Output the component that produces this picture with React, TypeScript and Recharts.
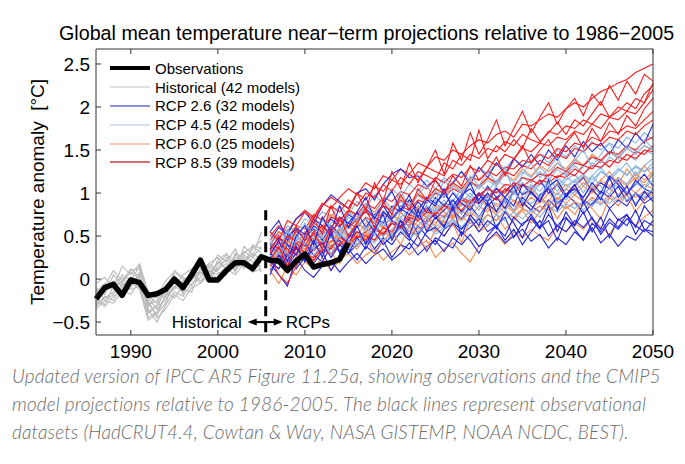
import { Legend, Line, LineChart, ReferenceDot, ReferenceLine, XAxis, YAxis } from "recharts";

// years on the x axis
const FIRST_YEAR = 1986;
const RCP_START = 2006;
const LAST_YEAR = 2050;
const yearTicks = [1990, 2000, 2010, 2020, 2030, 2040, 2050];
const tempTicks = [-0.5, 0, 0.5, 1, 1.5, 2, 2.5];

// observations 1986-2015 (°C relative to 1986-2005)
const observations = [
  -0.23, -0.1, -0.06, -0.19, -0.01, -0.04, -0.19, -0.17, -0.12, 0.0,
  -0.1, 0.05, 0.22, -0.01, -0.01, 0.1, 0.19, 0.19, 0.12, 0.26,
  0.22, 0.21, 0.1, 0.21, 0.29, 0.14, 0.17, 0.19, 0.23, 0.42,
];

// historical runs 1986-2005
const historical: number[][] = [
  [-0.2, -0.1, -0.05, 0.02, -0.08, 0.05, -0.3, -0.25, -0.12, -0.05, -0.1, 0.0, 0.08, 0.02, 0.12, 0.18, 0.1, 0.22, 0.15, 0.28],
  [-0.3, -0.22, -0.15, -0.1, 0.0, -0.05, -0.45, -0.38, -0.2, -0.12, -0.02, 0.05, -0.05, 0.1, 0.05, 0.15, 0.25, 0.18, 0.3, 0.22],
  [-0.1, -0.18, 0.05, -0.05, 0.1, 0.12, -0.2, -0.28, -0.08, 0.02, -0.05, 0.08, 0.15, 0.05, 0.2, 0.12, 0.28, 0.2, 0.35, 0.45],
  [-0.25, -0.32, -0.2, -0.12, -0.18, -0.02, -0.35, -0.5, -0.3, -0.15, -0.2, -0.05, 0.02, 0.1, 0.0, 0.08, 0.15, 0.25, 0.12, 0.2],
  [-0.05, 0.02, -0.1, 0.15, 0.05, 0.18, -0.15, -0.22, -0.02, 0.08, 0.0, -0.08, 0.12, 0.18, 0.1, 0.25, 0.18, 0.32, 0.25, 0.38],
  [-0.35, -0.25, -0.28, -0.15, -0.05, -0.1, -0.4, -0.32, -0.25, -0.08, -0.15, 0.02, 0.08, -0.02, 0.15, 0.22, 0.12, 0.28, 0.2, 0.15],
  [-0.15, -0.05, -0.12, -0.02, 0.08, 0.0, -0.28, -0.42, -0.18, -0.1, 0.05, 0.12, 0.05, 0.18, 0.25, 0.1, 0.2, 0.3, 0.38, 0.3],
  [-0.22, -0.3, -0.08, -0.18, -0.1, 0.08, -0.38, -0.3, -0.15, -0.22, -0.08, 0.05, -0.02, 0.08, 0.18, 0.28, 0.22, 0.15, 0.25, 0.55],
  [-0.28, -0.15, -0.02, -0.08, 0.02, -0.12, -0.48, -0.4, -0.28, -0.02, -0.12, -0.15, 0.1, 0.15, 0.08, 0.05, 0.3, 0.25, 0.1, 0.25],
  [-0.12, -0.25, -0.18, 0.05, -0.02, 0.15, -0.22, -0.35, -0.1, 0.05, -0.18, 0.1, 0.2, 0.0, 0.22, 0.3, 0.08, 0.38, 0.28, 0.08],
  [-0.18, -0.08, 0.1, -0.02, 0.12, 0.02, -0.32, -0.18, -0.22, 0.1, 0.02, -0.02, 0.18, 0.12, 0.28, 0.2, 0.35, 0.12, 0.4, 0.35],
  [-0.32, -0.2, -0.25, -0.05, -0.12, -0.08, -0.25, -0.45, -0.35, -0.18, -0.25, -0.1, -0.05, 0.05, -0.02, 0.12, 0.05, 0.18, 0.08, 0.12],
];

// scenario runs 2006-2050
const rcp26: number[][] = [
  [0.18, 0.05, -0.08, 0.25, 0.1, 0.02, 0.15, 0.22, 0.08, 0.2, 0.3, 0.18, 0.28, 0.35, 0.22, 0.3, 0.42, 0.28, 0.38, 0.45, 0.32, 0.48, 0.4, 0.52, 0.38, 0.45, 0.55, 0.42, 0.5, 0.58, 0.44, 0.52, 0.36, 0.48, 0.4, 0.55, 0.46, 0.6, 0.42, 0.52, 0.38, 0.5, 0.45, 0.58, 0.5],
  [0.45, 0.6, 0.52, 0.7, 0.78, 0.65, 0.85, 0.98, 0.9, 0.82, 1.0, 1.05, 0.92, 1.1, 1.22, 1.28, 1.18, 1.2, 1.08, 1.15, 1.02, 1.12, 1.25, 1.1, 1.3, 1.18, 1.35, 1.22, 1.4, 1.3, 1.45, 1.32, 1.5, 1.38, 1.55, 1.42, 1.6, 1.48, 1.58, 1.45, 1.62, 1.52, 1.7, 1.58, 1.8],
  [0.3, 0.22, 0.4, 0.35, 0.28, 0.45, 0.38, 0.5, 0.32, 0.48, 0.55, 0.42, 0.6, 0.5, 0.65, 0.58, 0.7, 0.52, 0.68, 0.75, 0.62, 0.8, 0.7, 0.85, 0.72, 0.88, 0.78, 0.92, 0.8, 0.95, 0.85, 0.78, 0.92, 0.82, 0.98, 0.9, 0.76, 0.88, 0.95, 0.82, 0.92, 0.85, 1.0, 0.88, 0.95],
  [0.25, 0.35, 0.15, 0.3, 0.42, 0.28, 0.2, 0.38, 0.45, 0.3, 0.4, 0.52, 0.35, 0.48, 0.4, 0.55, 0.45, 0.62, 0.5, 0.4, 0.58, 0.65, 0.52, 0.6, 0.7, 0.55, 0.62, 0.72, 0.48, 0.65, 0.7, 0.58, 0.75, 0.62, 0.55, 0.68, 0.6, 0.72, 0.52, 0.66, 0.58, 0.7, 0.62, 0.55, 0.68],
  [0.4, 0.3, 0.5, 0.58, 0.45, 0.62, 0.55, 0.7, 0.6, 0.75, 0.68, 0.82, 0.72, 0.65, 0.85, 0.78, 0.92, 0.8, 0.95, 0.88, 1.0, 0.85, 0.98, 1.05, 0.92, 1.08, 0.95, 1.02, 1.12, 0.98, 1.05, 1.15, 1.0, 1.1, 0.95, 1.08, 1.18, 1.02, 1.12, 1.05, 1.15, 1.0, 1.1, 1.22, 1.08],
  [0.1, 0.22, 0.3, 0.12, 0.25, 0.18, 0.32, 0.1, 0.28, 0.35, 0.22, 0.38, 0.3, 0.45, 0.25, 0.4, 0.35, 0.5, 0.32, 0.48, 0.42, 0.36, 0.55, 0.45, 0.3, 0.5, 0.62, 0.45, 0.58, 0.4, 0.55, 0.68, 0.5, 0.62, 0.72, 0.58, 0.45, 0.65, 0.55, 0.7, 0.6, 0.75, 0.52, 0.68, 0.62],
  [0.35, 0.48, 0.4, 0.28, 0.5, 0.58, 0.45, 0.62, 0.52, 0.4, 0.62, 0.7, 0.55, 0.78, 0.68, 0.6, 0.82, 0.72, 0.85, 0.7, 0.8, 0.92, 0.78, 0.88, 1.0, 0.85, 0.95, 0.82, 1.02, 0.9, 0.8, 0.98, 1.05, 0.88, 0.96, 1.1, 0.92, 0.85, 1.02, 0.95, 1.08, 0.9, 1.0, 0.92, 1.05],
  [0.55, 0.68, 0.45, 0.6, 0.52, 0.7, 0.62, 0.5, 0.72, 0.65, 0.78, 0.6, 0.75, 0.85, 0.7, 0.82, 0.75, 0.9, 0.78, 0.95, 0.85, 1.0, 0.88, 0.8, 0.98, 0.9, 1.05, 0.95, 0.85, 1.1, 1.0, 0.9, 1.08, 1.15, 0.98, 1.05, 0.95, 1.12, 1.0, 1.2, 1.1, 0.98, 1.15, 1.05, 1.0],
  [0.2, 0.12, 0.28, 0.38, 0.22, 0.35, 0.42, 0.25, 0.4, 0.3, 0.48, 0.35, 0.55, 0.4, 0.5, 0.62, 0.48, 0.38, 0.55, 0.6, 0.5, 0.65, 0.58, 0.7, 0.55, 0.68, 0.6, 0.5, 0.72, 0.62, 0.75, 0.6, 0.68, 0.45, 0.7, 0.62, 0.78, 0.55, 0.72, 0.48, 0.7, 0.62, 0.8, 0.58, 0.55],
  [0.28, 0.45, 0.2, 0.5, 0.62, 0.4, 0.72, 0.55, 0.85, 0.6, 0.78, 0.95, 0.7, 0.88, 1.02, 0.8, 0.98, 0.72, 0.92, 0.85, 1.05, 0.8, 0.95, 1.12, 0.88, 1.0, 0.78, 0.95, 1.08, 0.85, 1.02, 0.9, 1.15, 0.8, 0.98, 1.1, 0.88, 1.05, 0.92, 1.18, 0.95, 1.08, 0.85, 1.02, 0.9],
  [0.05, 0.28, 0.15, 0.38, 0.2, 0.45, 0.25, 0.55, 0.3, 0.48, 0.62, 0.4, 0.58, 0.75, 0.45, 0.68, 0.5, 0.8, 0.55, 0.72, 0.6, 0.85, 0.5, 0.75, 0.62, 0.9, 0.58, 0.78, 0.65, 0.48, 0.72, 0.6, 0.85, 0.55, 0.78, 0.62, 0.9, 0.7, 0.58, 0.82, 0.68, 0.75, 0.6, 0.85, 0.72],
];

const rcp45: number[][] = [
  [0.3, 0.42, 0.35, 0.5, 0.38, 0.45, 0.55, 0.48, 0.6, 0.52, 0.65, 0.58, 0.72, 0.62, 0.7, 0.78, 0.68, 0.82, 0.75, 0.88, 0.8, 0.92, 0.85, 0.95, 0.9, 1.0, 0.92, 1.05, 0.98, 1.1, 1.02, 1.12, 1.05, 1.18, 1.08, 1.15, 1.22, 1.1, 1.25, 1.18, 1.28, 1.2, 1.32, 1.25, 1.3],
  [0.5, 0.45, 0.62, 0.55, 0.7, 0.65, 0.78, 0.72, 0.85, 0.75, 0.9, 0.82, 0.98, 0.88, 1.05, 0.95, 1.1, 1.02, 1.15, 1.05, 1.18, 1.1, 1.25, 1.15, 1.3, 1.22, 1.35, 1.28, 1.4, 1.32, 1.38, 1.45, 1.35, 1.5, 1.42, 1.55, 1.48, 1.6, 1.5, 1.58, 1.52, 1.65, 1.58, 1.7, 1.62],
  [0.15, 0.25, 0.2, 0.3, 0.22, 0.35, 0.28, 0.4, 0.32, 0.45, 0.38, 0.5, 0.42, 0.55, 0.48, 0.52, 0.6, 0.5, 0.65, 0.58, 0.62, 0.7, 0.6, 0.72, 0.65, 0.75, 0.68, 0.8, 0.7, 0.82, 0.78, 0.85, 0.76, 0.9, 0.82, 0.88, 0.8, 0.92, 0.86, 0.95, 0.9, 0.98, 0.88, 1.0, 0.95],
  [0.35, 0.28, 0.45, 0.38, 0.3, 0.5, 0.42, 0.58, 0.48, 0.62, 0.55, 0.48, 0.68, 0.6, 0.75, 0.65, 0.72, 0.85, 0.7, 0.8, 0.92, 0.78, 0.88, 1.0, 0.85, 0.95, 1.08, 0.9, 1.02, 1.12, 0.98, 1.1, 1.18, 1.02, 1.15, 1.22, 1.08, 1.2, 1.3, 1.15, 1.25, 1.35, 1.2, 1.32, 1.4],
  [0.4, 0.52, 0.45, 0.38, 0.55, 0.6, 0.5, 0.65, 0.72, 0.58, 0.7, 0.78, 0.65, 0.8, 0.72, 0.85, 0.92, 0.8, 0.95, 0.88, 0.98, 0.9, 1.05, 0.95, 1.1, 1.02, 1.15, 1.08, 1.0, 1.18, 1.12, 1.25, 1.15, 1.28, 1.2, 1.32, 1.22, 1.35, 1.28, 1.42, 1.35, 1.45, 1.38, 1.5, 1.45],
  [0.25, 0.18, 0.32, 0.42, 0.3, 0.38, 0.48, 0.35, 0.52, 0.42, 0.55, 0.45, 0.6, 0.5, 0.58, 0.68, 0.55, 0.62, 0.72, 0.6, 0.7, 0.78, 0.68, 0.82, 0.72, 0.85, 0.78, 0.9, 0.8, 0.92, 0.88, 0.95, 0.85, 1.0, 0.92, 1.02, 0.95, 1.08, 0.98, 1.05, 1.1, 1.0, 1.12, 1.05, 1.15],
  [0.45, 0.35, 0.55, 0.48, 0.62, 0.52, 0.68, 0.6, 0.55, 0.72, 0.65, 0.8, 0.7, 0.85, 0.78, 0.9, 0.82, 0.98, 0.88, 1.02, 0.95, 1.08, 1.0, 1.12, 1.05, 1.15, 1.08, 1.22, 1.12, 1.25, 1.18, 1.3, 1.2, 1.35, 1.25, 1.38, 1.3, 1.42, 1.35, 1.48, 1.4, 1.52, 1.45, 1.55, 1.5],
  [0.32, 0.4, 0.28, 0.45, 0.52, 0.4, 0.55, 0.48, 0.6, 0.5, 0.62, 0.7, 0.58, 0.75, 0.65, 0.72, 0.8, 0.7, 0.85, 0.78, 0.88, 0.82, 0.95, 0.85, 0.98, 0.92, 1.02, 0.95, 1.08, 1.0, 1.1, 1.02, 1.15, 1.08, 1.18, 1.12, 1.2, 1.15, 1.25, 1.18, 1.28, 1.22, 1.3, 1.25, 1.35],
  [0.2, 0.3, 0.25, 0.15, 0.32, 0.28, 0.38, 0.3, 0.42, 0.35, 0.45, 0.4, 0.52, 0.45, 0.5, 0.58, 0.48, 0.55, 0.62, 0.52, 0.6, 0.68, 0.58, 0.65, 0.72, 0.62, 0.75, 0.68, 0.78, 0.7, 0.8, 0.72, 0.85, 0.78, 0.88, 0.82, 0.9, 0.85, 0.95, 0.88, 0.98, 0.92, 1.0, 0.95, 1.05],
  [0.42, 0.3, 0.58, 0.45, 0.65, 0.5, 0.72, 0.6, 0.48, 0.78, 0.68, 0.88, 0.72, 0.95, 0.8, 1.02, 0.85, 0.98, 1.1, 0.9, 1.15, 1.02, 0.92, 1.2, 1.08, 1.25, 1.12, 1.3, 1.0, 1.22, 1.35, 1.18, 1.28, 1.42, 1.2, 1.38, 1.5, 1.3, 1.45, 1.58, 1.4, 1.55, 1.48, 1.62, 1.52],
  [0.22, 0.38, 0.3, 0.18, 0.42, 0.35, 0.5, 0.28, 0.55, 0.45, 0.38, 0.6, 0.52, 0.68, 0.5, 0.72, 0.6, 0.78, 0.65, 0.82, 0.7, 0.88, 0.75, 0.92, 0.8, 0.98, 0.85, 0.78, 1.02, 0.9, 1.08, 0.95, 1.12, 0.88, 1.05, 1.15, 1.0, 1.2, 1.08, 0.98, 1.18, 1.1, 1.25, 1.05, 1.22],
];

const rcp60: number[][] = [
  [0.1, -0.05, 0.15, 0.05, 0.2, 0.12, 0.25, 0.1, 0.22, 0.3, 0.18, 0.28, 0.35, 0.22, 0.32, 0.4, 0.28, 0.38, 0.45, 0.25, 0.35, 0.42, 0.3, 0.2, 0.38, 0.45, 0.52, 0.4, 0.55, 0.48, 0.58, 0.5, 0.45, 0.62, 0.55, 0.65, 0.58, 0.7, 0.6, 0.52, 0.68, 0.75, 0.62, 0.72, 0.8],
  [0.3, 0.38, 0.25, 0.42, 0.35, 0.48, 0.4, 0.52, 0.45, 0.38, 0.55, 0.48, 0.6, 0.52, 0.65, 0.58, 0.68, 0.62, 0.72, 0.65, 0.75, 0.7, 0.8, 0.72, 0.85, 0.78, 0.88, 0.82, 0.92, 0.85, 0.95, 0.88, 1.0, 0.92, 1.05, 0.98, 1.08, 1.0, 1.12, 1.05, 1.15, 1.08, 1.18, 1.12, 1.22],
  [0.45, 0.55, 0.48, 0.62, 0.58, 0.7, 0.62, 0.75, 0.68, 0.8, 0.72, 0.85, 0.78, 0.92, 0.82, 0.95, 0.88, 1.0, 0.92, 1.05, 0.98, 1.1, 1.02, 1.15, 1.05, 1.18, 1.1, 1.22, 1.15, 1.28, 1.2, 1.32, 1.25, 1.35, 1.28, 1.4, 1.32, 1.45, 1.38, 1.48, 1.42, 1.52, 1.45, 1.55, 1.5],
  [0.25, 0.18, 0.35, 0.28, 0.4, 0.32, 0.45, 0.38, 0.5, 0.42, 0.48, 0.55, 0.45, 0.6, 0.5, 0.62, 0.55, 0.68, 0.58, 0.72, 0.65, 0.75, 0.68, 0.78, 0.7, 0.82, 0.75, 0.85, 0.78, 0.88, 0.8, 0.92, 0.85, 0.95, 0.88, 0.98, 0.9, 1.02, 0.95, 1.05, 0.98, 1.08, 1.0, 1.1, 1.05],
  [0.38, 0.3, 0.45, 0.52, 0.4, 0.55, 0.48, 0.42, 0.58, 0.62, 0.5, 0.65, 0.7, 0.58, 0.75, 0.68, 0.62, 0.8, 0.72, 0.85, 0.78, 0.7, 0.88, 0.82, 0.92, 0.85, 0.95, 0.88, 0.8, 0.98, 1.02, 0.92, 1.05, 0.98, 1.1, 1.02, 1.12, 1.05, 1.15, 1.08, 1.18, 1.1, 1.22, 1.15, 1.25],
  [0.2, 0.32, 0.28, 0.22, 0.35, 0.42, 0.3, 0.45, 0.38, 0.48, 0.4, 0.52, 0.45, 0.55, 0.48, 0.6, 0.52, 0.58, 0.65, 0.55, 0.68, 0.62, 0.72, 0.65, 0.6, 0.75, 0.68, 0.78, 0.72, 0.82, 0.75, 0.85, 0.8, 0.88, 0.82, 0.9, 0.85, 0.95, 0.88, 0.98, 0.92, 1.0, 0.95, 1.02, 0.98],
  [0.35, 0.22, 0.45, 0.3, 0.55, 0.42, 0.62, 0.35, 0.58, 0.48, 0.68, 0.55, 0.72, 0.6, 0.52, 0.78, 0.65, 0.85, 0.7, 0.62, 0.88, 0.72, 0.95, 0.82, 1.0, 0.85, 0.78, 1.02, 0.9, 0.82, 1.05, 0.95, 0.88, 1.12, 0.98, 1.08, 1.2, 1.02, 1.15, 1.25, 1.1, 1.28, 1.15, 1.32, 1.2],
  [0.15, 0.3, 0.08, 0.25, 0.35, 0.2, 0.4, 0.3, 0.18, 0.42, 0.35, 0.5, 0.28, 0.45, 0.55, 0.4, 0.62, 0.48, 0.35, 0.58, 0.5, 0.65, 0.42, 0.7, 0.55, 0.62, 0.75, 0.58, 0.68, 0.8, 0.65, 0.78, 0.88, 0.7, 0.85, 0.75, 0.92, 0.82, 0.7, 0.95, 0.85, 0.98, 0.78, 0.92, 1.0],
];

const rcp85: number[][] = [
  [0.5, 0.62, 0.55, 0.7, 0.8, 0.72, 0.88, 0.82, 0.95, 1.05, 0.98, 1.12, 1.05, 1.2, 1.15, 1.28, 1.22, 1.35, 1.3, 1.42, 1.38, 1.5, 1.45, 1.55, 1.62, 1.58, 1.68, 1.72, 1.65, 1.8, 1.78, 1.85, 1.92, 1.88, 1.98, 2.05, 2.0, 2.1, 2.18, 2.22, 2.28, 2.32, 2.4, 2.45, 2.5],
  [0.4, 0.55, 0.48, 0.62, 0.58, 0.75, 0.68, 0.85, 0.78, 0.92, 0.85, 1.0, 0.95, 1.1, 1.02, 1.18, 1.1, 1.25, 1.2, 1.15, 1.35, 1.28, 1.45, 1.38, 1.73, 1.4, 1.55, 1.48, 1.62, 1.52, 1.75, 1.6, 1.7, 1.82, 1.68, 1.85, 1.78, 1.92, 2.06, 1.88, 1.95, 2.05, 1.98, 2.15, 2.25],
  [0.35, 0.48, 0.42, 0.55, 0.5, 0.65, 0.58, 0.72, 0.68, 0.8, 0.75, 0.88, 0.82, 0.95, 0.9, 1.02, 0.98, 1.1, 1.05, 1.18, 1.12, 1.22, 1.18, 1.3, 1.25, 1.38, 1.32, 1.45, 1.4, 1.52, 1.48, 1.58, 1.55, 1.65, 1.62, 1.72, 1.68, 1.8, 1.75, 1.88, 1.85, 1.95, 1.92, 2.05, 2.2],
  [0.3, 0.42, 0.35, 0.28, 0.45, 0.52, 0.4, 0.58, 0.5, 0.65, 0.6, 0.72, 0.65, 0.78, 0.7, 0.85, 0.8, 0.92, 0.88, 1.0, 0.95, 1.05, 1.0, 1.12, 1.08, 1.18, 1.12, 1.25, 1.2, 1.32, 1.28, 1.38, 1.32, 1.45, 1.4, 1.52, 1.48, 1.58, 1.55, 1.65, 1.62, 1.72, 1.68, 1.78, 1.85],
  [0.2, 0.12, 0.28, 0.35, 0.25, 0.38, 0.32, 0.45, 0.4, 0.52, 0.48, 0.55, 0.62, 0.52, 0.68, 0.62, 0.75, 0.7, 0.82, 0.75, 0.88, 0.82, 0.95, 0.9, 1.0, 0.95, 1.05, 1.0, 1.12, 1.08, 1.15, 1.1, 1.22, 1.18, 1.25, 1.2, 1.32, 1.28, 1.38, 1.3, 1.42, 1.38, 1.48, 1.45, 1.55],
  [0.55, 0.45, 0.68, 0.62, 0.78, 0.7, 0.85, 0.95, 0.88, 0.82, 1.0, 0.92, 1.08, 1.02, 1.15, 1.1, 1.22, 1.15, 1.3, 1.25, 1.2, 1.38, 1.32, 1.45, 1.4, 1.52, 1.48, 1.6, 1.55, 1.68, 1.62, 1.58, 1.72, 1.68, 1.78, 1.75, 1.85, 1.8, 1.92, 1.88, 2.0, 1.95, 2.1, 2.05, 2.28],
  [0.15, 0.28, 0.22, 0.35, 0.3, 0.25, 0.4, 0.35, 0.48, 0.42, 0.55, 0.5, 0.45, 0.6, 0.55, 0.68, 0.62, 0.72, 0.65, 0.78, 0.72, 0.85, 0.8, 0.92, 0.88, 0.98, 0.92, 1.05, 1.0, 1.1, 1.05, 1.15, 1.12, 1.2, 1.18, 1.28, 1.22, 1.32, 1.3, 1.38, 1.35, 1.45, 1.4, 1.5, 1.48],
  [0.42, 0.35, 0.5, 0.45, 0.38, 0.55, 0.62, 0.52, 0.68, 0.6, 0.7, 0.78, 0.72, 0.85, 0.8, 0.92, 0.85, 0.98, 0.92, 1.05, 1.0, 1.12, 1.05, 1.18, 1.15, 1.25, 1.2, 1.3, 1.28, 1.38, 1.35, 1.45, 1.4, 1.52, 1.48, 1.58, 1.55, 1.65, 1.6, 1.72, 1.7, 1.78, 1.75, 1.85, 1.95],
  [0.25, 0.05, -0.05, 0.15, 0.3, 0.22, 0.35, 0.28, 0.42, 0.38, 0.5, 0.45, 0.58, 0.52, 0.65, 0.6, 0.72, 0.68, 0.78, 0.75, 0.85, 0.8, 0.92, 0.88, 0.98, 1.05, 1.0, 1.1, 1.08, 1.18, 1.15, 1.22, 1.2, 1.3, 1.25, 1.35, 1.32, 1.42, 1.38, 1.48, 1.45, 1.55, 1.5, 1.6, 1.65],
  [0.32, 0.5, 0.28, 0.6, 0.45, 0.7, 0.52, 0.85, 0.62, 0.78, 1.0, 0.8, 1.12, 0.9, 1.25, 1.05, 1.35, 1.12, 1.3, 1.5, 1.22, 1.58, 1.38, 1.7, 1.45, 1.62, 1.85, 1.55, 1.75, 1.95, 1.7, 1.88, 2.05, 1.8, 1.98, 2.1, 1.9, 2.15, 2.02, 2.25, 2.08, 2.3, 2.15, 2.38, 2.3],
  [0.22, 0.38, 0.15, 0.42, 0.3, 0.55, 0.35, 0.6, 0.72, 0.5, 0.65, 0.82, 0.6, 0.9, 0.75, 0.98, 0.8, 1.05, 0.92, 1.15, 1.0, 1.2, 1.08, 1.32, 1.15, 1.25, 1.42, 1.2, 1.38, 1.55, 1.35, 1.5, 1.62, 1.42, 1.58, 1.7, 1.52, 1.75, 1.6, 1.82, 1.68, 1.9, 1.78, 1.98, 2.1],
];

const scenarios = [
  { key: "r45", runs: rcp45, color: "#86b3e6" },
  { key: "r60", runs: rcp60, color: "#f98a4c" },
  { key: "r26", runs: rcp26, color: "#2424e0" },
  { key: "r85", runs: rcp85, color: "#ff1a1a" },
];

const legendRows = [
  { label: "Observations", color: "#000", width: 4 },
  { label: "Historical (42 models)", color: "#d6d6d6", width: 1.5 },
  { label: "RCP 2.6 (32 models)", color: "#6a6ac8", width: 1.5 },
  { label: "RCP 4.5 (42 models)", color: "#c4d6ec", width: 1.5 },
  { label: "RCP 6.0 (25 models)", color: "#f5b393", width: 1.5 },
  { label: "RCP 8.5 (39 models)", color: "#c84040", width: 1.5 },
];

const years: number[] = [];
for (let y = FIRST_YEAR; y <= LAST_YEAR; y++) years.push(y);

const data = years.map((year) => {
  const row: Record<string, number> = { year };
  const hi = year - FIRST_YEAR;
  if (hi < observations.length) row.obs = observations[hi];
  historical.forEach((run, k) => {
    if (hi < run.length) row[`h${k}`] = run[hi];
  });
  const ri = year - RCP_START;
  scenarios.forEach((sc) =>
    sc.runs.forEach((run, k) => {
      if (ri >= 0 && ri < run.length) row[`${sc.key}_${k}`] = run[ri];
    })
  );
  return row;
});

// draw runs interleaved so no scenario sits entirely on top
const maxRuns = Math.max(...scenarios.map((s) => s.runs.length));
const rcpLines: { key: string; color: string }[] = [];
for (let k = 0; k < maxRuns; k++) {
  scenarios.forEach((sc) => {
    if (k < sc.runs.length) rcpLines.push({ key: `${sc.key}_${k}`, color: sc.color });
  });
}

const FONT = '"Liberation Sans", Arial, Helvetica, sans-serif';
const FRAME = "#333";
const TICK_LEN = 5;

const fmtTemp = (v: number) => (v < 0 ? `\u2212${Math.abs(v)}` : `${v}`);

function BottomTick({ x, y, payload }: any) {
  const ay = y - 9;
  return (
    <g>
      <line x1={x} x2={x} y1={ay} y2={ay - TICK_LEN} stroke={FRAME} />
      <text x={x} y={y} dy="0.72em" textAnchor="middle" fontSize={19} fontFamily={FONT} fill="#000">
        {payload.value}
      </text>
    </g>
  );
}

function TopTick({ x, y }: any) {
  const ay = y + 2;
  return <line x1={x} x2={x} y1={ay} y2={ay + TICK_LEN} stroke={FRAME} />;
}

function LeftTick({ x, y, payload }: any) {
  const ax = x + 6;
  return (
    <g>
      <line x1={ax} x2={ax + TICK_LEN} y1={y} y2={y} stroke={FRAME} />
      <text x={x} y={y} dy="0.36em" textAnchor="end" fontSize={19} fontFamily={FONT} fill="#000">
        {fmtTemp(payload.value)}
      </text>
    </g>
  );
}

function RightTick({ x, y }: any) {
  const ax = x - 2;
  return <line x1={ax} x2={ax - TICK_LEN} y1={y} y2={y} stroke={FRAME} />;
}

function YLabel({ viewBox }: any) {
  const cx = viewBox.x + viewBox.width - 59;
  const cy = viewBox.y + viewBox.height / 2;
  return (
    <text
      x={cx}
      y={cy}
      transform={`rotate(-90, ${cx}, ${cy})`}
      textAnchor="middle"
      dominantBaseline="central"
      fontSize={19}
      fontFamily={FONT}
      fill="#000"
    >
      Temperature anomaly {"\u00a0"}[°C]
    </text>
  );
}

function SplitMarker({ cx, cy }: any) {
  return (
    <g fontFamily={FONT} fontSize={17} fill="#000">
      <text x={cx - 24} y={cy} dy="0.36em" textAnchor="end">
        Historical
      </text>
      <line x1={cx - 12} x2={cx + 11} y1={cy} y2={cy} stroke="#000" strokeWidth={2} />
      <polygon points={`${cx - 18},${cy} ${cx - 9},${cy - 3.5} ${cx - 9},${cy + 3.5}`} />
      <polygon points={`${cx + 17},${cy} ${cx + 8},${cy - 3.5} ${cx + 8},${cy + 3.5}`} />
      <text x={cx + 20} y={cy} dy="0.36em" textAnchor="start">
        RCPs
      </text>
    </g>
  );
}

function LegendBox() {
  return (
    <div style={{ fontFamily: FONT, fontSize: 15, color: "#000" }}>
      {legendRows.map((r) => (
        <div key={r.label} style={{ display: "flex", alignItems: "center", height: 18.8 }}>
          <svg width={40} height={10} style={{ marginRight: 5 }}>
            <line x1={0} x2={40} y1={5} y2={5} stroke={r.color} strokeWidth={r.width} />
          </svg>
          <span style={{ whiteSpace: "nowrap" }}>{r.label}</span>
        </div>
      ))}
    </div>
  );
}

export default function App() {
  return (
    <div style={{ position: "absolute", left: 0, top: 0, width: 685, height: 464, background: "#fff" }}>
      <div
        style={{
          position: "absolute",
          left: 59,
          top: 21,
          fontFamily: FONT,
          fontSize: 19.7,
          lineHeight: "24px",
          whiteSpace: "nowrap",
          color: "#000",
        }}
      >
        Global mean temperature near{"\u2212"}term projections relative to 1986{"\u2212"}2005
      </div>
      <div style={{ position: "absolute", left: 0, top: 0 }}>
        <LineChart
          width={685}
          height={370}
          data={data}
          margin={{ top: 39, right: 22, bottom: 5, left: 36 }}
        >
          <XAxis
            dataKey="year"
            type="number"
            domain={[FIRST_YEAR, LAST_YEAR]}
            ticks={yearTicks}
            height={30}
            tickSize={0}
            tickMargin={9}
            tick={<BottomTick />}
            axisLine={{ stroke: FRAME }}
            interval={0}
          />
          <XAxis
            xAxisId="top"
            orientation="top"
            dataKey="year"
            type="number"
            domain={[FIRST_YEAR, LAST_YEAR]}
            ticks={yearTicks}
            height={10}
            tickSize={0}
            tickMargin={2}
            tick={<TopTick />}
            axisLine={{ stroke: FRAME }}
            interval={0}
          />
          <YAxis
            type="number"
            domain={[-0.65, 2.674]}
            ticks={tempTicks}
            width={60}
            tickSize={0}
            tickMargin={6}
            tick={<LeftTick />}
            axisLine={{ stroke: FRAME }}
            interval={0}
            label={<YLabel />}
          />
          <YAxis
            yAxisId="right"
            orientation="right"
            type="number"
            domain={[-0.65, 2.674]}
            ticks={tempTicks}
            width={10}
            tickSize={0}
            tickMargin={2}
            tick={<RightTick />}
            axisLine={{ stroke: FRAME }}
            interval={0}
          />
          {historical.map((_, k) => (
            <Line
              key={`h${k}`}
              dataKey={`h${k}`}
              stroke="#b9b9b9"
              strokeWidth={1.1}
              dot={false}
              activeDot={false}
              isAnimationActive={false}
            />
          ))}
          {rcpLines.map((l) => (
            <Line
              key={l.key}
              dataKey={l.key}
              stroke={l.color}
              strokeWidth={1.1}
              dot={false}
              activeDot={false}
              isAnimationActive={false}
            />
          ))}
          <Line
            dataKey="obs"
            stroke="#000"
            strokeWidth={5.5}
            strokeLinejoin="round"
            dot={false}
            activeDot={false}
            isAnimationActive={false}
          />
          <ReferenceLine
            segment={[
              { x: 2005.5, y: 0.8 },
              { x: 2005.5, y: -0.65 },
            ]}
            stroke="#000"
            strokeWidth={3}
            strokeDasharray="10 6"
          />
          <ReferenceDot x={2005.5} y={-0.5} r={0} shape={(p: any) => <SplitMarker cx={p.cx} cy={p.cy} />} />
          <Legend
            layout="vertical"
            align="center"
            verticalAlign="middle"
            wrapperStyle={{ left: 110, top: 59, width: "auto" }}
            content={() => <LegendBox />}
          />
        </LineChart>
      </div>
      <div
        style={{
          position: "absolute",
          left: 12,
          top: 362,
          width: 670,
          fontFamily: "Lato, 'Open Sans', sans-serif",
          fontStyle: "italic",
          fontWeight: 300,
          fontSize: 19,
          lineHeight: "28px",
          letterSpacing: 0.14,
          color: "#6b6b6b",
          whiteSpace: "nowrap",
        }}
      >
        Updated version of IPCC AR5 Figure 11.25a, showing observations and the CMIP5
        <br />
        model projections relative to 1986-2005. The black lines represent observational
        <br />
        datasets (HadCRUT4.4, Cowtan &amp; Way, NASA GISTEMP, NOAA NCDC, BEST).
      </div>
    </div>
  );
}
